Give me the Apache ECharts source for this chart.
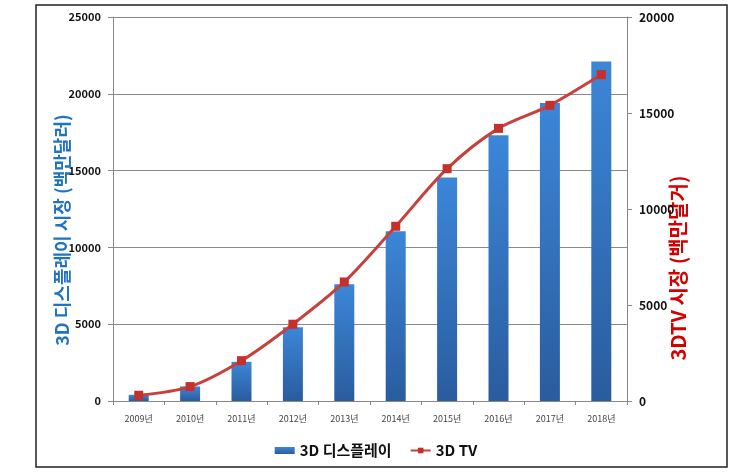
<!DOCTYPE html>
<html>
<head>
<meta charset="utf-8">
<script src="https://cdn.jsdelivr.net/npm/echarts@6/dist/echarts.min.js"></script>
<style>html,body{margin:0;padding:0;background:#fff}#c{width:752px;height:476px}</style>
</head>
<body>
<div id="c"></div>
<script>
const categories = ['2009년','2010년','2011년','2012년','2013년','2014년','2015년','2016년','2017년','2018년'];
const displayValues = [400, 950, 2550, 4800, 7600, 11050, 14550, 17300, 19400, 22100];
const tvValues = [300, 750, 2100, 4000, 6200, 9100, 12100, 14200, 15400, 17000];
const leftTicks = [0, 5000, 10000, 15000, 20000, 25000];
const rightTicks = [0, 5000, 10000, 15000, 20000];
const seriesNames = ['3D 디스플레이', '3D TV'];
const leftAxisTitle = '3D 디스플레이 시장 (백만달러)';
const rightAxisTitle = '3DTV 시장 (백만달거)';

const chart = echarts.init(document.getElementById('c'), null, {renderer: 'canvas'});
const font = 'Malgun Gothic, "Noto Sans CJK KR", sans-serif';
const plain = v => String(v);
chart.setOption({
  animation: false,
  textStyle: {fontFamily: font},
  grid: {left: 113, right: 125, top: 17, bottom: 75},
  legend: {
    data: [
      {name: seriesNames[0], icon: 'rect'},
      {name: seriesNames[1]}
    ],
    bottom: 13, left: 'center',
    itemWidth: 20, itemHeight: 7, itemGap: 18,
    textStyle: {fontSize: 15, fontWeight: 'bold', color: '#111', fontFamily: font}
  },
  xAxis: {
    type: 'category', data: categories,
    axisLine: {lineStyle: {color: '#888'}},
    axisTick: {show: true, length: 4, lineStyle: {color: '#888'}},
    axisLabel: {fontSize: 9, color: '#444', margin: 13}
  },
  yAxis: [
    {
      type: 'value', min: leftTicks[0], max: leftTicks[leftTicks.length-1], interval: 5000,
      axisLine: {show: true, lineStyle: {color: '#888'}},
      axisTick: {show: true, length: 5, lineStyle: {color: '#888'}},
      axisLabel: {fontSize: 11, fontWeight: 'bold', color: '#111', margin: 12, formatter: plain},
      splitLine: {lineStyle: {color: '#8a8a8a', width: 1}}
    },
    {
      type: 'value', min: rightTicks[0], max: rightTicks[rightTicks.length-1], interval: 5000,
      position: 'right',
      axisLine: {show: true, lineStyle: {color: '#888'}},
      axisTick: {show: true, length: 5, lineStyle: {color: '#888'}},
      axisLabel: {fontSize: 12, fontWeight: 'bold', color: '#111', margin: 12, formatter: plain},
      splitLine: {show: false}
    }
  ],
  series: [
    {
      name: seriesNames[0], type: 'bar', data: displayValues, barWidth: 20, yAxisIndex: 0,
      itemStyle: {color: new echarts.graphic.LinearGradient(0,0,0,1,[
        {offset: 0, color: '#3c86d8'}, {offset: 1, color: '#2a5c9e'}])}
    },
    {
      name: seriesNames[1], type: 'line', data: tvValues, yAxisIndex: 1, smooth: 0.3,
      symbol: 'rect', symbolSize: 9,
      lineStyle: {color: '#c8403c', width: 3},
      itemStyle: {color: '#c6302c'}
    }
  ],
  graphic: [
    {type: 'rect', shape: {x: 36, y: 5, width: 691, height: 462},
     style: {fill: 'none', stroke: '#222', lineWidth: 1.5}, silent: true},
    {type: 'text', x: 62, y: 230, rotation: Math.PI/2,
     style: {text: leftAxisTitle, font: 'bold 18px ' + font, fill: '#1f72c4', align: 'center', verticalAlign: 'middle'}},
    {type: 'text', x: 678, y: 268, rotation: Math.PI/2,
     style: {text: rightAxisTitle, font: 'bold 20px ' + font, fill: '#d40000', align: 'center', verticalAlign: 'middle'}}
  ]
});
</script>
</body>
</html>
